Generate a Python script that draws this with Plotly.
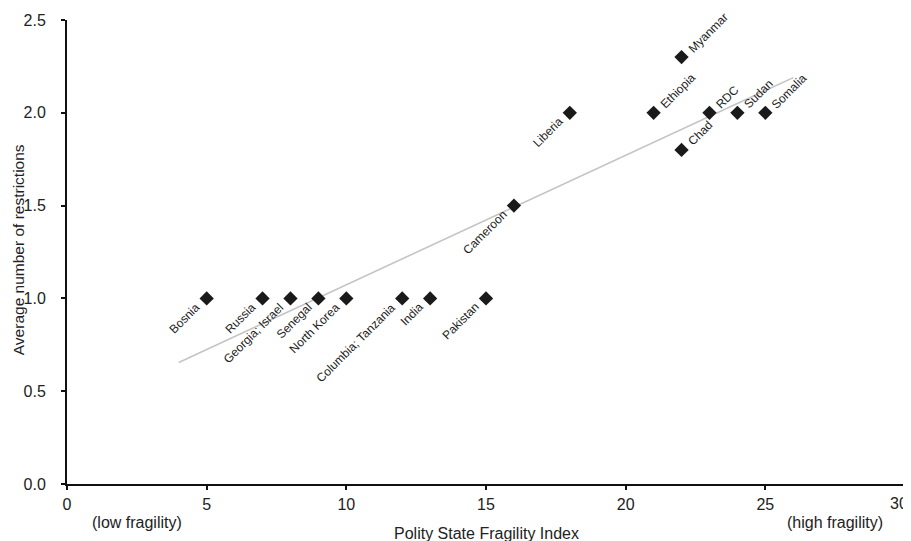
import numpy as np
import plotly.graph_objects as go

# ---- data ----
countries = ["Bosnia", "Russia", "Georgia; Israel", "Senegal", "North Korea",
             "Columbia; Tanzania", "India", "Pakistan", "Cameroon", "Liberia",
             "Ethiopia", "Myanmar", "Chad", "RDC", "Sudan", "Somalia"]
fragility = [5, 7, 8, 9, 10, 12, 13, 15, 16, 18, 21, 22, 22, 23, 24, 25]
restrictions = [1.0, 1.0, 1.0, 1.0, 1.0, 1.0, 1.0, 1.0, 1.5, 2.0, 2.0, 2.3, 1.8, 2.0, 2.0, 2.0]
n_countries = [1, 1, 2, 1, 1, 2, 1, 1, 1, 1, 1, 1, 1, 1, 1, 1]
label_side = ["ll"] * 10 + ["ur"] * 6
x_ticks = [0, 5, 10, 15, 20, 25, 30]
x_tick_labels = ["0", "5", "10", "15", "20", "25", "30"]
y_ticks = [0.0, 0.5, 1.0, 1.5, 2.0, 2.5]
trend_x_range = [4, 26]

# ---- trend (least squares on all countries) ----
xr = np.repeat(fragility, n_countries)
yr = np.repeat(restrictions, n_countries)
slope, intercept = np.polyfit(xr, yr, 1)
tx = np.array(trend_x_range, dtype=float)
ty = slope * tx + intercept

fig = go.Figure()
fig.add_trace(go.Scatter(x=tx, y=ty, mode="lines",
                         line=dict(color="#c4c4c4", width=1.6),
                         hoverinfo="skip", showlegend=False))
fig.add_trace(go.Scatter(x=fragility, y=restrictions, mode="markers",
                         marker=dict(symbol="diamond", size=11, color="#1a1a1a"),
                         showlegend=False, cliponaxis=False))

# Arial-ish width table for label placement
W = dict(zip("abcdefghijklmnopqrstuvwxyz",
             [556, 556, 500, 556, 556, 278, 556, 556, 222, 222, 500, 222, 833,
              556, 556, 556, 556, 333, 500, 278, 556, 500, 722, 500, 500, 500]))
W.update(dict(zip("ABCDEFGHIJKLMNOPQRSTUVWXYZ",
                  [667, 667, 722, 722, 667, 611, 778, 722, 278, 500, 667, 556, 833,
                   722, 778, 667, 778, 722, 667, 611, 722, 667, 944, 667, 667, 611])))
W.update({" ": 278, ";": 278})

lab_size = 12
gap = 11
r2 = np.sqrt(2)
for name, x, y, side in zip(countries, fragility, restrictions, label_side):
    L = sum(W.get(c, 556) for c in name) / 1000 * lab_size
    d = gap + L / 2
    if side == "ll":
        xs, ys = -d / r2 - 1, -d / r2 + 1
    else:
        xs, ys = d / r2 + 1, d / r2 - 1
    fig.add_annotation(x=x, y=y, text=name, showarrow=False, textangle=-45,
                       xshift=xs, yshift=ys, xanchor="center", yanchor="middle",
                       font=dict(family="Liberation Sans, Arial", size=lab_size, color="#222"))

axis_font = dict(family="Liberation Sans, Arial", size=16, color="#222")
common = dict(showarrow=False, xanchor="center", yanchor="middle")
fig.add_annotation(x=2.5, y=-0.084, xref="x", yref="paper", text="(low fragility)",
                   font=axis_font, **common)
fig.add_annotation(x=27.48, y=-0.082, xref="x", yref="paper", text="(high fragility)",
                   font=axis_font, **common)
fig.add_annotation(x=0.5, y=-0.106, xref="paper", yref="paper",
                   text="Polity State Fragility Index",
                   font=dict(family="Liberation Sans, Arial", size=16, color="#222"), **common)
fig.add_annotation(x=-0.0585, y=0.506, xref="paper", yref="paper", textangle=-90,
                   text="Average number of restrictions",
                   font=dict(family="Liberation Sans, Arial", size=15.5, color="#222"), **common)
# last x tick label, kept inside the page edge (as in the reference)
fig.add_annotation(x=x_ticks[-1], y=-0.041, xref="x", yref="paper", text=x_tick_labels[-1],
                   showarrow=False, xanchor="right", yanchor="middle", xshift=5,
                   font=axis_font)

# page body has an 8px default margin; size the figure so the plot area lands right
fig.update_layout(
    width=903, height=533,
    margin=dict(l=59, r=6, t=12, b=57, autoexpand=False),
    paper_bgcolor="white", plot_bgcolor="white",
    font=dict(family="Liberation Sans, Arial", color="#222"),
)
fig.update_xaxes(range=[0, 30], tickvals=x_ticks, ticktext=x_tick_labels[:-1] + [""],
                 showgrid=False, zeroline=False, showline=True, linecolor="#111",
                 linewidth=2, ticks="outside", ticklen=4, tickwidth=1.5, tickcolor="#111",
                 tickfont=axis_font, automargin=False, ticklabeloverflow="allow",
                 ticklabelstandoff=1)
fig.update_yaxes(range=[0, 2.5], tickvals=y_ticks, ticktext=[f"{v:.1f}" for v in y_ticks],
                 showgrid=False, zeroline=False, showline=True, linecolor="#111",
                 linewidth=2, ticks="outside", ticklen=4, tickwidth=1.5, tickcolor="#111",
                 tickfont=axis_font, ticklabelstandoff=12, automargin=False)

fig.write_html("out.html")
